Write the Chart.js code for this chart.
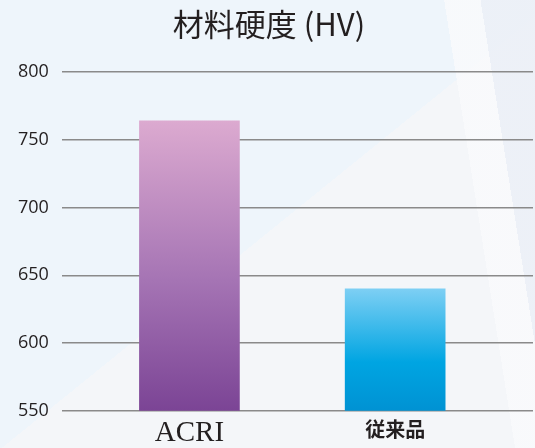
<!DOCTYPE html>
<html>
<head>
<meta charset="utf-8">
<script src="https://cdn.jsdelivr.net/npm/chart.js@4"></script>
<style>
    html, body { margin: 0; padding: 0; }
    body {
        width: 535px; height: 448px; overflow: hidden;
        background:
            linear-gradient(81deg, rgba(255,255,255,0) 0 85%, rgba(249,250,252,0.85) 85% 91%, rgba(236,240,247,0.9) 91% 100%),
            linear-gradient(141deg, #eef5fb 0 51%, #f4f6f9 51% 100%);
    }
    #wrap { position: relative; width: 535px; height: 448px; }
</style>
</head>
<body>
<div id="wrap"><canvas id="hardnessChart"></canvas></div>
<script>
(function() {
    'use strict';

    // ===== DATA =====
    const categories = ['ACRI', '従来品'];
    const hardness = [764, 640];
    const yTicks = [550, 600, 650, 700, 750, 800];

    // top / middle / bottom colours of each bar
    const barTop = ['#dcaad0', '#7dcff4'];
    const barMid = ['#a574b4', '#00a5e2'];
    const barBottom = ['#7b4495', '#0092d3'];

    function barGradient(ctx) {
        const chart = ctx.chart;
        if (!chart.chartArea || ctx.dataIndex === undefined) return barBottom[0];
        const y = chart.scales.y;
        const i = ctx.dataIndex;
        const top = y.getPixelForValue(hardness[i]);
        const bottom = y.getPixelForValue(yTicks[0]);
        const g = chart.ctx.createLinearGradient(0, top, 0, bottom);
        g.addColorStop(0, barTop[i]);
        g.addColorStop(i === 0 ? 0.55 : 0.6, barMid[i]);
        g.addColorStop(1, barBottom[i]);
        return g;
    }

    const ctx = document.getElementById('hardnessChart').getContext('2d');
    new Chart(ctx, {
        type: 'bar',
        data: {
            datasets: [{
                label: '材料硬度',
                data: hardness.map((v, i) => ({ x: i, y: v })),
                backgroundColor: barGradient,
                borderWidth: 0,
                barThickness: 100
            }]
        },
        options: {
            responsive: true,
            maintainAspectRatio: false,
            animation: false,
            layout: { padding: { left: 5, right: 2, top: 2, bottom: 0 } },
            plugins: {
                legend: { display: false },
                tooltip: { enabled: false },
                title: {
                    display: true,
                    text: '材料硬度 (HV)',
                    color: '#231f20',
                    font: { family: '"Noto Sans CJK JP", "Noto Sans"', size: 31, weight: 'normal', lineHeight: 1.1 },
                    padding: { top: 5, bottom: 31 }
                }
            },
            scales: {
                x: {
                    type: 'linear',
                    offset: false,
                    min: -0.62,
                    max: 1.67,
                    grid: { display: false },
                    border: { display: false },
                    afterBuildTicks: function(scale) {
                        scale.ticks = categories.map((c, i) => ({ value: i }));
                    },
                    ticks: {
                        padding: 3,
                        color: '#231f20',
                        autoSkip: false,
                        maxRotation: 0,
                        callback: function(value) { return categories[value]; },
                        font: function(c) {
                            if (c.index === 0) return { family: '"Liberation Serif", "DejaVu Serif"', size: 29, lineHeight: 0.8 };
                            return { family: '"Noto Sans CJK JP"', size: 20, weight: 'bold', lineHeight: 0.8 };
                        }
                    }
                },
                y: {
                    min: yTicks[0],
                    max: yTicks[yTicks.length - 1],
                    afterBuildTicks: function(scale) {
                        scale.ticks = yTicks.map(v => ({ value: v }));
                    },
                    grid: { color: '#8a8a8a', lineWidth: 1.6, drawTicks: false },
                    border: { display: false },
                    ticks: {
                        padding: 13,
                        color: '#231f20',
                        font: { family: '"Open Sans", "Noto Sans"', size: 18 }
                    }
                }
            }
        }
    });
})();
</script>
</body>
</html>
